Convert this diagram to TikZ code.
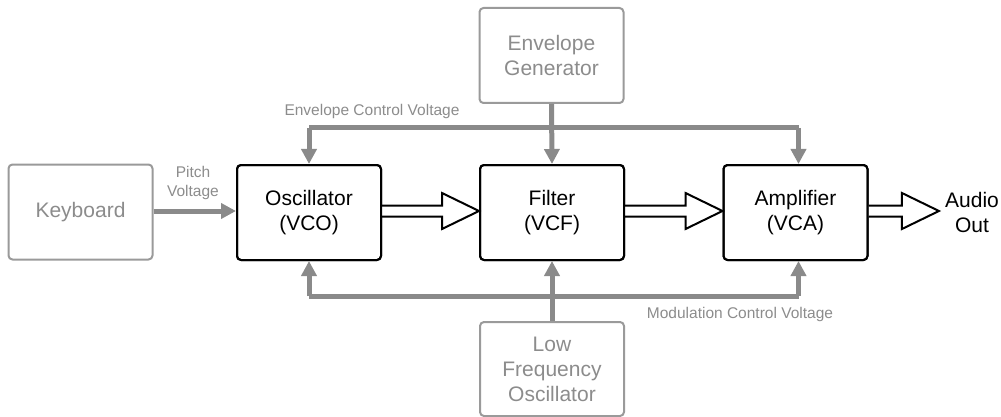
\documentclass[tikz,border=0pt]{standalone}
\usepackage{fontspec}
\setmainfont{Liberation Sans}
\usetikzlibrary{arrows.meta,calc}
\definecolor{bus}{HTML}{8A8A8A}
\definecolor{lbl}{HTML}{8C8C8C}
\definecolor{gbox}{HTML}{9A9A9A}
\tikzset{
  blk/.style={draw=black,line width=2pt,rounded corners=4pt,minimum width=144pt,minimum height=95pt,inner sep=0pt,align=center,font=\fontsize{21}{25}\selectfont,fill=white},
  gblk/.style={blk,draw=gbox,text=lbl},
  busline/.style={draw=bus,line width=5pt,line join=miter},
  tip/.style={-{Triangle[length=15pt,width=15pt]}},
  small/.style={text=lbl,font=\fontsize{15.5}{19}\selectfont,align=center,inner sep=0pt},
  hollow/.style={draw=black,fill=white,line width=2pt,line join=miter}
}
\newcommand\hollowarrow[2]{%
  \path[hollow] let \p1=(#1), \p2=(#2) in
    (\x1,\y1+5.5pt) -- (\x2-37pt,\y1+5.5pt) -- (\x2-37pt,\y1+18pt) -- (\x2,\y1)
    -- (\x2-37pt,\y1-18pt) -- (\x2-37pt,\y1-5.5pt) -- (\x1,\y1-5.5pt);}
\begin{document}
\begin{tikzpicture}[x=1pt,y=-1pt]
\useasboundingbox (0,0) rectangle (1001,417);
% nodes
\node[gblk] (kbd) at (80.5,212) {Keyboard};
\node[blk] (osc) at (309,212.5) {Oscillator\\(VCO)};
\node[blk] (flt) at (552,212.5) {Filter\\(VCF)};
\node[blk] (amp) at (795.5,212.5) {Amplifier\\(VCA)};
\node[gblk] (env) at (551.5,55.5) {Envelope\\Generator};
\node[gblk,minimum height=94pt] (lfo) at (552,369) {Low\\Frequency\\Oscillator};
\node[align=center,font=\fontsize{21}{25}\selectfont,inner sep=0pt] (out) at (972,212.5) {Audio\\Out};
\coordinate (outtip) at ($(out.west)+(-6,0)$);
% labels
\node[small] (ecv) at (372,111) {Envelope Control Voltage};
\node[small] (mcv) at (740,314) {Modulation Control Voltage};
\node[small] (pv) at (193,183) {Pitch\\Voltage};
% bus coordinates
\coordinate (ampn) at ($(amp.north)+(3,0)$);
\coordinate (amps) at ($(amp.south)+(3,0)$);
\coordinate (tl) at (osc.north |- 0,128);
\coordinate (tr) at (ampn |- 0,128);
\coordinate (bl) at (osc.south |- 0,296);
\coordinate (br) at (amps |- 0,296);
% buses
\draw[busline,tip] (tl) -- (osc.north);
\draw[busline,tip] (tr) -- (ampn);
\draw[busline] (tl) -- (tr);
\draw[busline,tip] (env.south) -- (flt.north);
\draw[busline,tip] (bl) -- (osc.south);
\draw[busline,tip] (br) -- (amps);
\draw[busline] (bl) -- (br);
\draw[busline,tip] (lfo.north) -- (flt.south);
\draw[busline,tip] (kbd.east |- 0,211) -- (osc.west |- 0,211);
% hollow arrows
\hollowarrow{osc.east |- 0,211}{flt.west |- 0,211}
\hollowarrow{flt.east |- 0,211}{amp.west |- 0,211}
\hollowarrow{amp.east |- 0,211}{outtip |- 0,211}
% redraw box borders over arrow ends
\node[blk,fill=none] at (osc) {};
\node[blk,fill=none] at (flt) {};
\node[blk,fill=none] at (amp) {};
\end{tikzpicture}
\end{document}
